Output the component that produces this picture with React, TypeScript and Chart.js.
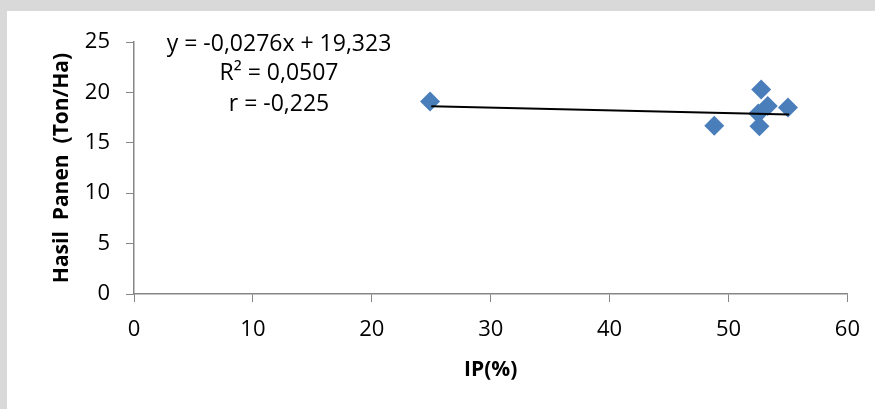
import React, { useEffect, useRef } from "react";
import { Chart, registerables } from "chart.js";

Chart.register(...registerables);

const ipValues = [24.9, 48.8, 52.6, 52.5, 52.75, 53.3, 55.0];
const yieldValues = [19.1, 16.7, 16.65, 17.9, 20.3, 18.65, 18.5];
const trendX = [25.0, 55.1];
const trendY = [18.633, 17.802];
const xTicks = [0, 10, 20, 30, 40, 50, 60];
const yTicks = [0, 5, 10, 15, 20, 25];
const annotationLines = ["y = -0,0276x + 19,323", "R² = 0,0507", "r = -0,225"];
const xTitle = "IP(%)";
const yTitle = "Hasil  Panen  (Ton/Ha)";

const FONT = "'Open Sans', 'Liberation Sans', sans-serif";

const annotationPlugin = {
  id: "regAnnotation",
  afterDatasetsDraw(chart: any) {
    const ctx = chart.ctx;
    ctx.save();
    ctx.fillStyle = "#000";
    ctx.font = `23px ${FONT}`;
    ctx.textAlign = "center";
    ctx.textBaseline = "middle";
    const ys = [44, 73, 104];
    annotationLines.forEach((t, i) => ctx.fillText(t, 279, ys[i]));
    ctx.restore();
  },
};

export default function App() {
  const ref = useRef<HTMLCanvasElement | null>(null);
  useEffect(() => {
    document.body.style.margin = "0";
    const canvas = ref.current!;
    const chart = new Chart(canvas, {
      type: "scatter",
      data: {
        datasets: [
          {
            label: "trend",
            data: trendX.map((x, i) => ({ x, y: trendY[i] })),
            showLine: true,
            borderColor: "#000",
            borderWidth: 2,
            pointRadius: 0,
            order: 0,
          },
          {
            label: "data",
            data: ipValues.map((x, i) => ({ x, y: yieldValues[i] })),
            pointStyle: "rectRot",
            pointRadius: 10,
            backgroundColor: "#4a7ebb",
            borderColor: "#4a7ebb",
            borderWidth: 0,
            order: 1,
          },
        ],
      },
      options: {
        animation: false,
        responsive: false,
        devicePixelRatio: 1,
        layout: { padding: { left: 0, right: 27, top: 42, bottom: 0 } },
        plugins: { legend: { display: false }, tooltip: { enabled: false } },
        scales: {
          x: {
            type: "linear",
            min: 0,
            max: 60,
            afterBuildTicks: (s: any) => {
              s.ticks = xTicks.map((v) => ({ value: v }));
            },
            afterFit: (s: any) => {
              s.height = 115;
            },
            ticks: {
              color: "#000",
              font: { family: FONT, size: 22 },
              padding: 15,
              maxRotation: 0,
            },
            grid: {
              display: true,
              drawOnChartArea: false,
              drawTicks: true,
              tickLength: 8,
              color: "#868686",
            },
            border: { display: true, color: "#868686", width: 1.5 },
            title: {
              display: true,
              text: xTitle,
              color: "#000",
              font: { family: FONT, size: 21, weight: "bold" },
              padding: { top: 0, bottom: 26 },
            },
          },
          y: {
            type: "linear",
            min: 0,
            max: 25,
            afterBuildTicks: (s: any) => {
              s.ticks = yTicks.map((v) => ({ value: v }));
            },
            afterFit: (s: any) => {
              s.width = 134;
            },
            ticks: {
              color: "#000",
              font: { family: FONT, size: 22 },
              padding: 16,
            },
            grid: {
              display: true,
              drawOnChartArea: false,
              drawTicks: true,
              tickLength: 8,
              color: "#868686",
            },
            border: { display: true, color: "#868686", width: 1.5 },
            title: {
              display: true,
              text: yTitle,
              color: "#000",
              font: { family: FONT, size: 21, weight: "bold" },
              padding: { top: 49, bottom: 0 },
            },
          },
        },
      },
      plugins: [annotationPlugin],
    } as any);
    return () => chart.destroy();
  }, []);

  return (
    <div style={{ position: "relative", width: 875, height: 409, background: "#d9d9d9", overflow: "hidden" }}>
      <div style={{ position: "absolute", left: 7, top: 11, right: 0, bottom: 0, background: "#fff" }} />
      <canvas ref={ref} width={875} height={409} style={{ position: "absolute", left: 0, top: 0, display: "block" }} />
    </div>
  );
}
